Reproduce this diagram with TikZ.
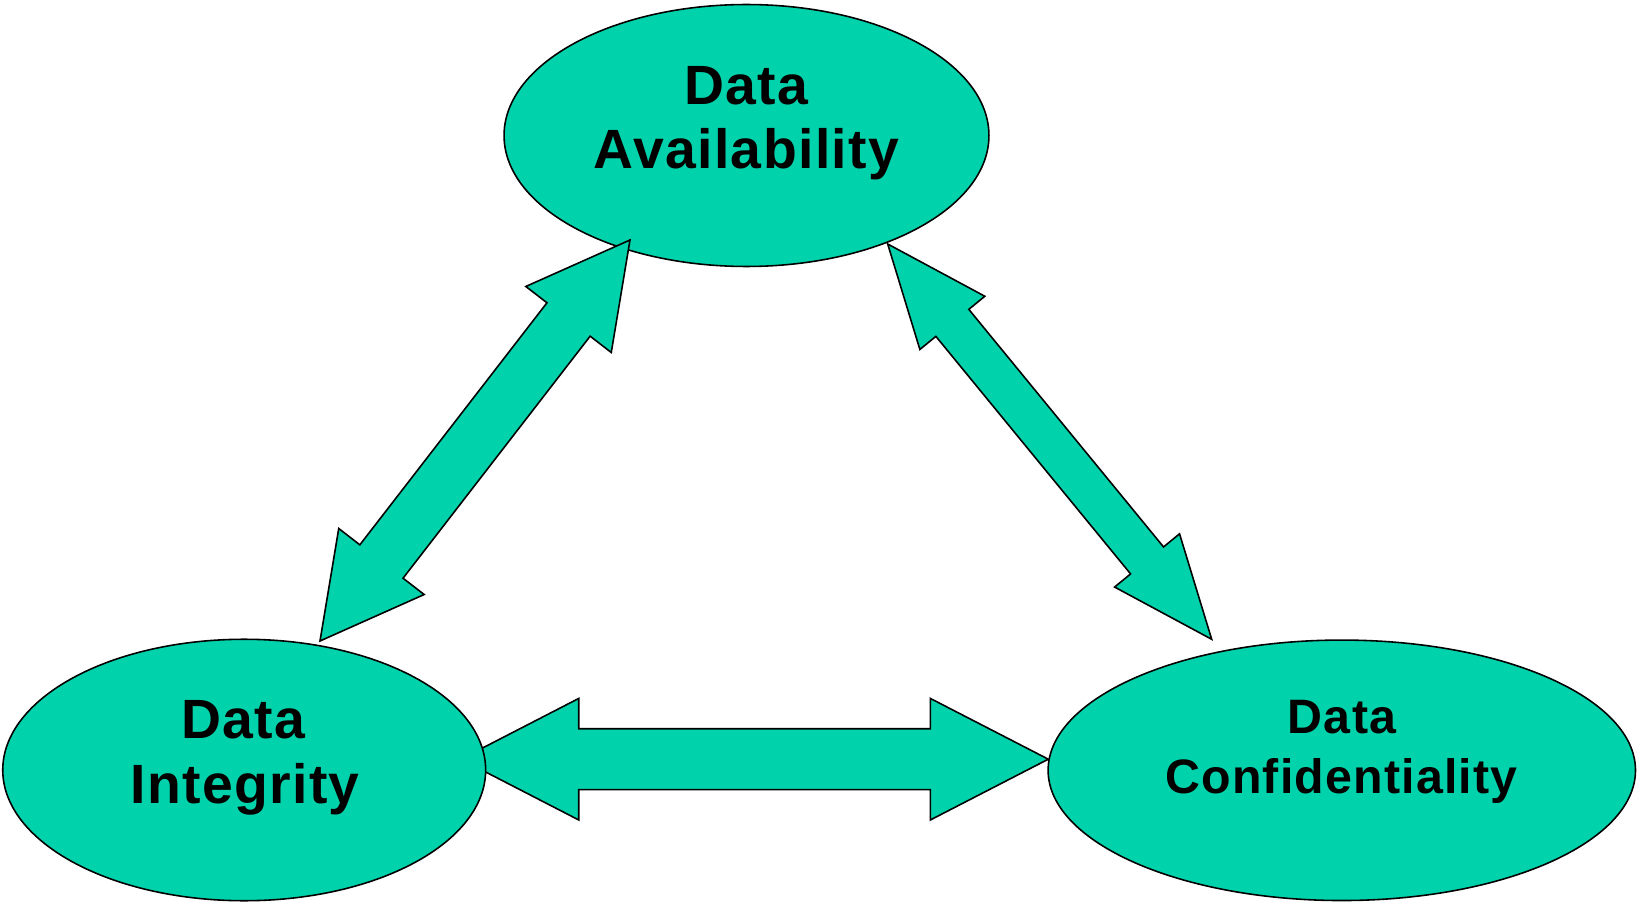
\documentclass[tikz,border=0pt]{standalone}
\usepackage{fontspec}
\setmainfont{Liberation Sans}[LetterSpace=2.5]
\usetikzlibrary{shapes.geometric,calc}
\definecolor{teal}{RGB}{0,211,172}

% double-headed block arrow between two tips:
% #1 tip A, #2 tip B, #3 head length, #4 half head width, #5 half shaft width
\newcommand\blockarrow[5]{%
  \path ($(#1)!#3!(#2)$) coordinate (ha)
        ($(#2)!#3!(#1)$) coordinate (hb);
  \draw[arrowbody] (#1)
    -- ($(ha)!#4!90:(#2)$) -- ($(ha)!#5!90:(#2)$)
    -- ($(hb)!#5!90:(#2)$) -- ($(hb)!#4!90:(#2)$)
    -- (#2)
    -- ($(hb)!#4!-90:(#2)$) -- ($(hb)!#5!-90:(#2)$)
    -- ($(ha)!#5!-90:(#2)$) -- ($(ha)!#4!-90:(#2)$)
    -- cycle;}

\begin{document}
\begin{tikzpicture}[x=0.02cm, y=-0.02cm,
  bubble/.style={ellipse, draw=black, line width=0.9pt, fill=teal, inner sep=0pt},
  arrowbody/.style={draw=black, line width=0.9pt, fill=teal, line join=miter},
  bigtext/.style={font=\fontsize{31.5}{37}\selectfont\bfseries, anchor=base, inner sep=0pt},
  smalltext/.style={font=\fontsize{27.5}{33}\selectfont\bfseries, anchor=base, inner sep=0pt}]
\useasboundingbox (0,0) rectangle (1637,902);

% arrow tips
\coordinate (hL) at (460.8,759.2);
\coordinate (hR) at (1048.3,759.2);
\coordinate (lB) at (320,641);
\coordinate (lT) at (630,240);
\coordinate (rT) at (887.7,244);
\coordinate (rB) at (1211.7,639.3);

% horizontal arrow sits under the ellipses
\blockarrow{hL}{hR}{2.36cm}{1.216cm}{0.61cm}

\node[bubble, minimum width=9.70cm, minimum height=5.24cm] (av) at (746.5,135.5) {};
\node[bubble, minimum width=9.66cm, minimum height=5.23cm] (in) at (244.2,770) {};
\node[bubble, minimum width=11.75cm, minimum height=5.21cm] (co) at (1341.8,770.3) {};

\node[bigtext] (av1) at (746.5,104.4) {Data};
\node[bigtext] (av2) at (746.5,168.5) {Availability};
\node[bigtext] (in1) at (243.5,738.5) {Data};
\node[bigtext] (in2) at (245,803) {Integrity};
\node[smalltext] (co1) at (1342,733.5) {Data};
\node[smalltext] (co2) at (1341.5,793.5) {Confidentiality};

% diagonal arrows on top
\blockarrow{lB}{lT}{2.01cm}{1.08cm}{0.546cm}
\blockarrow{rT}{rB}{2.04cm}{0.84cm}{0.426cm}
\end{tikzpicture}
\end{document}
